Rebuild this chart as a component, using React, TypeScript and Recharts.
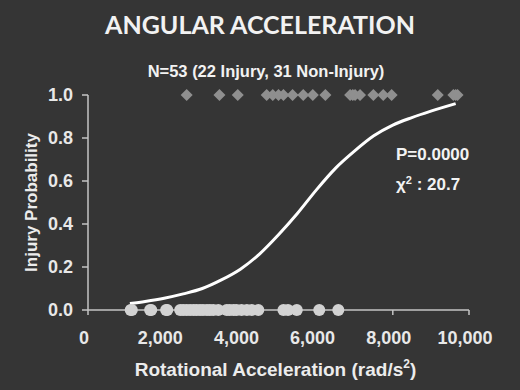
import React from "react";
import {
  ComposedChart,
  Scatter,
  Line,
  XAxis,
  YAxis,
} from "recharts";

// rotational acceleration (rad/s^2) of each case
const injuryX = [
  2590, 3450, 3930, 4690, 4850, 5000, 5130, 5370, 5650, 5900, 6230, 6880,
  6950, 7010, 7140, 7490, 7750, 7970, 9180, 9590, 9650, 9700,
];
const nonInjuryX = [
  1120, 1150, 1630, 1660, 2050, 2080, 2420, 2500, 2590, 2680, 2770, 2850,
  2940, 3020, 3120, 3200, 3290, 3420, 3640, 3720, 3820, 3900, 4030, 4170,
  4300, 4470, 5130, 5250, 5480, 6070, 6570,
];

// fitted logistic curve
const curveX = [
  1100, 1500, 2000, 2500, 3000, 3500, 4000, 4500, 5000, 5500, 6000, 6500,
  7000, 7500, 8000, 8500, 9000, 9650,
];
const curveP = [
  0.03, 0.04, 0.055, 0.075, 0.1, 0.14, 0.19, 0.26, 0.35, 0.45, 0.56, 0.66,
  0.74, 0.81, 0.86, 0.895, 0.925, 0.96,
];

const xTicks = [0, 2000, 4000, 6000, 8000, 10000];
const yTicks = [0, 0.2, 0.4, 0.6, 0.8, 1.0];

const injuryData = injuryX.map((x) => ({ x, y: 1 }));
const nonInjuryData = nonInjuryX.map((x) => ({ x, y: 0 }));
const curveData = curveX.map((x, i) => ({ x, y: curveP[i] }));

const FONT = "'Liberation Sans', Arial, sans-serif";
const BG = "#353535";

const Diamond = (props: any) => {
  const { cx, cy } = props;
  const r = 6;
  return (
    <polygon
      points={`${cx},${cy - r} ${cx + r},${cy} ${cx},${cy + r} ${cx - r},${cy}`}
      fill="#8f8f8f"
    />
  );
};

const Dot = (props: any) => (
  <circle cx={props.cx} cy={props.cy} r={6} fill="#d2d2d2" />
);

const YLabel = ({ viewBox }: any) => {
  const x = viewBox.x + 13;
  const y = viewBox.y + viewBox.height / 2;
  return (
    <text
      x={x}
      y={y}
      transform={`rotate(-90 ${x} ${y})`}
      textAnchor="middle"
      dominantBaseline="central"
      fill="#ececec"
      fontFamily={FONT}
      fontWeight="bold"
      fontSize={17}
    >
      Injury Probability
    </text>
  );
};

const XLabel = ({ viewBox }: any) => (
  <text
    x={viewBox.x + viewBox.width / 2 - 3}
    y={viewBox.y + 66}
    textAnchor="middle"
    fill="#ececec"
    fontFamily={FONT}
    fontWeight="bold"
    fontSize={19}
  >
    Rotational Acceleration (rad/s
    <tspan dy={-8} fontSize={12}>
      2
    </tspan>
    <tspan dy={8}>)</tspan>
  </text>
);

export default function App() {
  return (
    <div
      style={{
        position: "absolute",
        left: 0,
        top: 0,
        width: 520,
        height: 390,
        background: BG,
        fontFamily: FONT,
        color: "#f2f2f2",
      }}
    >
      <div
        style={{
          position: "absolute",
          left: 0,
          width: 520,
          top: 9,
          textAlign: "center",
          fontFamily: "Lato, sans-serif",
          fontWeight: 700,
          fontSize: 25,
        }}
      >
        ANGULAR ACCELERATION
      </div>
      <div
        style={{
          position: "absolute",
          left: 6,
          width: 520,
          top: 62,
          textAlign: "center",
          fontWeight: 700,
          fontSize: 16.5,
        }}
      >
        N=53 (22 Injury, 31 Non-Injury)
      </div>
      <ComposedChart
        width={520}
        height={390}
        margin={{ top: 95, right: 51, bottom: 20, left: 18 }}
      >
        <XAxis
          type="number"
          dataKey="x"
          domain={[0, 10000]}
          ticks={xTicks}
          tickFormatter={(v: number) => v.toLocaleString("en-US")}
          height={60}
          stroke="#c4c4c4"
          strokeWidth={1.5}
          tickSize={5}
          tickMargin={16}
          tick={{
            fill: "#e8e8e8",
            fontSize: 18,
            fontWeight: "bold",
            fontFamily: FONT,
            dx: -4,
          }}
          label={<XLabel />}
        />
        <YAxis
          type="number"
          dataKey="y"
          domain={[0, 1]}
          ticks={yTicks}
          tickFormatter={(v: number) => v.toFixed(1)}
          width={70}
          stroke="#c4c4c4"
          strokeWidth={1.5}
          tickSize={6}
          tickMargin={9}
          tick={{
            fill: "#e8e8e8",
            fontSize: 18,
            fontWeight: "bold",
            fontFamily: FONT,
          }}
          label={<YLabel />}
        />
        <Scatter
          data={nonInjuryData}
          shape={<Dot />}
          isAnimationActive={false}
        />
        <Scatter
          data={injuryData}
          shape={<Diamond />}
          isAnimationActive={false}
        />
        <Line
          data={curveData}
          dataKey="y"
          type="monotone"
          stroke="#ffffff"
          strokeWidth={3}
          dot={false}
          isAnimationActive={false}
        />
      </ComposedChart>
      <div
        style={{
          position: "absolute",
          left: 396,
          top: 145,
          fontWeight: 700,
          fontSize: 17,
          lineHeight: "20px",
        }}
      >
        P=0.0000
      </div>
      <div
        style={{
          position: "absolute",
          left: 396,
          top: 170,
          fontWeight: 700,
          fontSize: 17,
          lineHeight: "20px",
        }}
      >
        χ<sup style={{ fontSize: 11, verticalAlign: "6px" }}>2</sup> : 20.7
      </div>
    </div>
  );
}
